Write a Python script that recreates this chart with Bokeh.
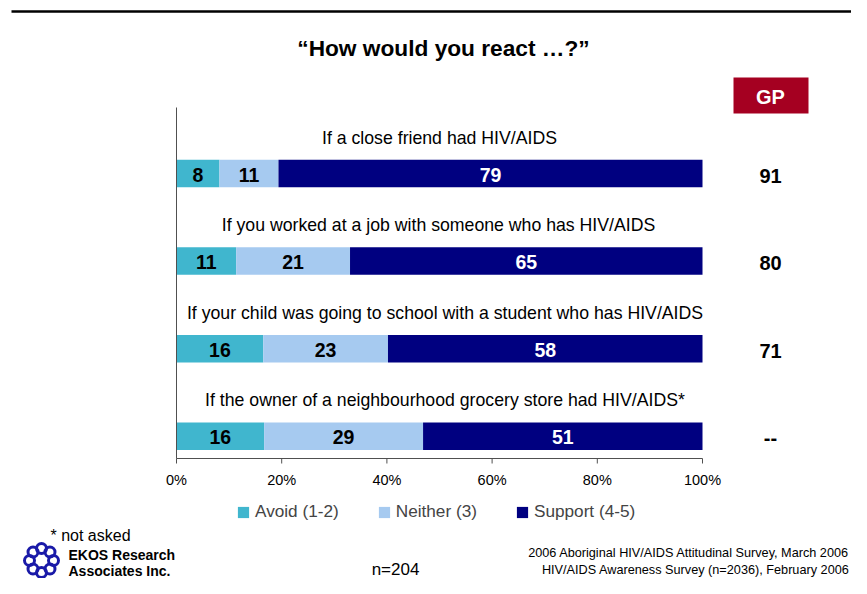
import numpy as np
from bokeh.plotting import figure
from bokeh.models import Range1d, Legend, LegendItem
from bokeh.core.properties import value
from bokeh.embed import file_html
from bokeh.resources import INLINE

# ---------------- data ----------------
title_text = "\u201cHow would you react \u2026?\u201d"
questions = [
    "If a close friend had HIV/AIDS",
    "If you worked at a job with someone who has HIV/AIDS",
    "If your child was going to school with a student who has HIV/AIDS",
    "If the owner of a neighbourhood grocery store had HIV/AIDS*",
]
series_names = ["Avoid (1-2)", "Neither (3)", "Support (4-5)"]
avoid = [8, 11, 16, 16]
neither = [11, 21, 23, 29]
support = [79, 65, 58, 51]
gp_values = ["91", "80", "71", "--"]
tick_values = [0, 20, 40, 60, 80, 100]
tick_labels = ["0%", "20%", "40%", "60%", "80%", "100%"]
series_colors = ["#40B6CE", "#A6CAF0", "#000080"]
label_colors = ["black", "black", "white"]

FONT_NAME = "Liberation Sans"
FONT = value(FONT_NAME)

# ---------------- layout (pixels) ----------------
W, H = 851, 578
X0, X100 = 176, 702          # pixel positions of 0% and 100%
ROW0, ROW_STEP = 173, 87.6   # pixel centre of first bar, spacing of bars
SX = (X100 - X0) / 100.0
question_px = [439, 438, 444.5, 444.5]   # horizontal centre of each question label


def xd(px):
    return (px - X0) / SX


def yd(py):
    return (py - ROW0) / ROW_STEP


p = figure(width=W, height=H, output_backend="svg", toolbar_location=None,
           x_range=Range1d(xd(0), xd(W)), y_range=Range1d(yd(H), yd(0)),
           x_axis_location=None, y_axis_location=None, min_border=0,
           title=None)
p.outline_line_color = None
p.xgrid.visible = False
p.ygrid.visible = False
p.background_fill_color = "white"
p.border_fill_color = "white"

rows = np.arange(len(questions))
vals = np.array([avoid, neither, support], dtype=float)
pct = vals / vals.sum(axis=0) * 100.0
rights = np.cumsum(pct, axis=0)
lefts = rights - pct

BAR_H = 27.5 / ROW_STEP
renderers = []
for i in range(3):
    r = p.hbar(y=rows, left=lefts[i], right=rights[i], height=BAR_H,
               fill_color=series_colors[i], line_color=None)
    renderers.append(r)
    p.text(x=(lefts[i] + rights[i]) / 2, y=rows + 1 / ROW_STEP,
           text=[str(v) for v in vals[i].astype(int)],
           text_color=label_colors[i], text_font=FONT, text_font_size="19.5px",
           text_font_style="bold", text_align="center", text_baseline="middle")

# question labels above bars
p.text(x=[xd(v) for v in question_px], y=rows - 36 / ROW_STEP, text=questions,
       text_color="black", text_font=FONT, text_font_size="17.7px",
       text_align="center", text_baseline="middle")

# axes (drawn in data coordinates)
AXIS_Y = yd(458)
AX_COL = "#505050"
p.segment(x0=[0], y0=[yd(107)], x1=[0], y1=[AXIS_Y], line_color=AX_COL, line_width=1)
p.segment(x0=[0], y0=[AXIS_Y], x1=[100], y1=[AXIS_Y], line_color=AX_COL, line_width=1)
p.segment(x0=tick_values, y0=[AXIS_Y] * 6, x1=tick_values, y1=[yd(463)] * 6,
          line_color=AX_COL, line_width=1)
p.text(x=tick_values, y=[yd(479)] * 6, text=tick_labels, text_color="black",
       text_font=FONT, text_font_size="14.5px", text_align="center",
       text_baseline="middle")

# top rule and title
p.segment(x0=[xd(11)], y0=[yd(11)], x1=[xd(W)], y1=[yd(11)], line_color="black", line_width=2.5)
p.text(x=[xd(443)], y=[yd(47)], text=[title_text], text_color="black",
       text_font=FONT, text_font_size="22.7px", text_font_style="bold",
       text_align="center", text_baseline="middle")

# GP column
p.quad(left=[xd(733)], right=[xd(808)], top=[yd(77)], bottom=[yd(113)],
       fill_color="#A50021", line_color=None)
p.text(x=[xd(770)], y=[yd(96)], text=["GP"], text_color="white", text_font=FONT,
       text_font_size="20px", text_font_style="bold", text_align="center",
       text_baseline="middle")
p.text(x=[xd(770)] * len(gp_values), y=rows + 2 / ROW_STEP, text=gp_values,
       text_color="black", text_font=FONT, text_font_size="20px",
       text_font_style="bold", text_align="center", text_baseline="middle")

# legend
legend = Legend(items=[LegendItem(label=n, renderers=[r]) for n, r in zip(series_names, renderers)],
                orientation="horizontal", location=(236, 56),
                glyph_width=14, glyph_height=14, label_standoff=5, spacing=38,
                padding=0, margin=0, border_line_color=None,
                background_fill_alpha=0, label_text_font=FONT_NAME,
                label_text_font_size="17.2px", label_height=16)
p.add_layout(legend)

# footer
p.text(x=[xd(50)], y=[yd(535)], text=["* not asked"], text_color="black",
       text_font=FONT, text_font_size="16px", text_align="left", text_baseline="middle")

# logo (ring of small rings)
ang = np.linspace(0, 2 * np.pi, 8, endpoint=False)
lx = [xd(41 + 12 * np.cos(a)) for a in ang]
ly = [yd(560 + 12 * np.sin(a)) for a in ang]
p.scatter(x=lx, y=ly, marker="circle", size=10, fill_alpha=0,
          line_color="#1A1AA8", line_width=3)

p.text(x=[xd(68)], y=[yd(554)], text=["EKOS Research"], text_color="black",
       text_font=FONT, text_font_size="14px", text_font_style="bold",
       text_align="left", text_baseline="middle")
p.text(x=[xd(68)], y=[yd(570)], text=["Associates Inc."], text_color="black",
       text_font=FONT, text_font_size="14px", text_font_style="bold",
       text_align="left", text_baseline="middle")
p.text(x=[xd(395)], y=[yd(569)], text=["n=204"], text_color="black",
       text_font=FONT, text_font_size="17px", text_align="center",
       text_baseline="middle")
p.text(x=[xd(849)] * 2, y=[yd(552), yd(569)],
       text=["2006 Aboriginal HIV/AIDS Attitudinal Survey, March 2006",
             "HIV/AIDS Awareness Survey (n=2036), February 2006"],
       text_color="black", text_font=FONT, text_font_size="12.7px",
       text_align="right", text_baseline="middle")

open("out.html", "w").write(file_html(p, INLINE))
